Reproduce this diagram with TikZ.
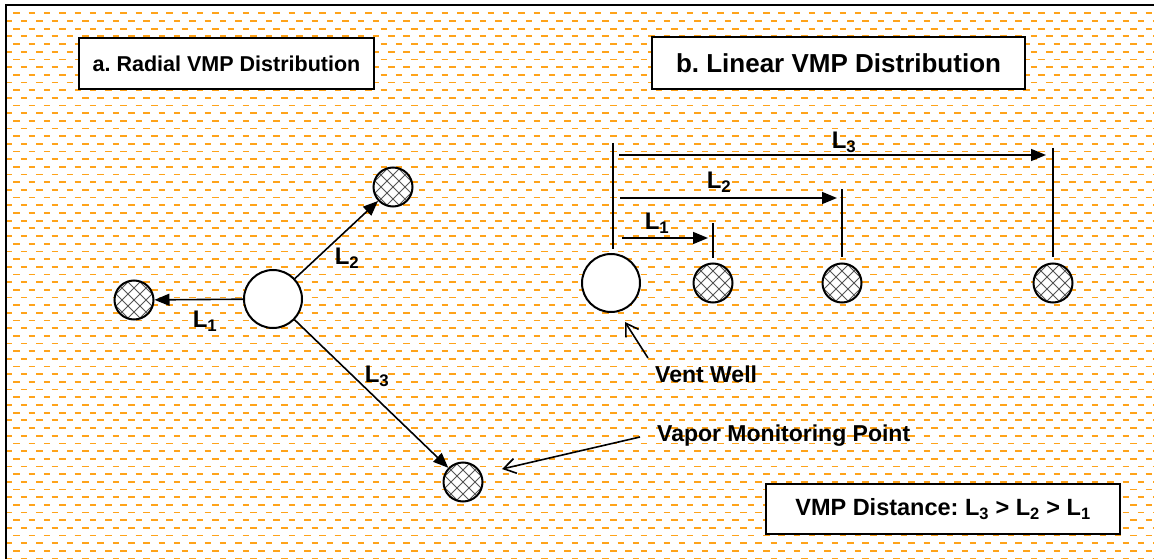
\documentclass[tikz,border=0pt]{standalone}
\usepackage{fontspec}
\setmainfont{Liberation Sans}
\usetikzlibrary{arrows.meta,calc}
\definecolor{bgorange}{RGB}{255,163,26}
\definecolor{hatchgray}{RGB}{85,85,85}
\newcommand{\Lsub}[1]{L\textsubscript{#1}}
\frenchspacing
\begin{document}
\begin{tikzpicture}[x=1pt,y=-1pt,
  bgline/.style={bgorange, line width=1.7pt, dash pattern=on 6.5pt off 8.8pt},
  frameline/.style={black, line width=2pt},
  titlebox/.style={draw, line width=2pt, fill=white, inner sep=0pt, anchor=north west},
  well/.style={circle, draw, line width=2pt, fill=white, minimum size=58pt, inner sep=0pt},
  hatchline/.style={hatchgray, line width=1pt},
  vmp/.style={circle, draw, line width=2pt, fill=white, minimum size=39pt, inner sep=0pt,
    path picture={
      \foreach \d in {-48,-36,...,48}{
        \draw[hatchline] ([xshift=\d pt]path picture bounding box.center) ++(-30,-30) -- ++(60,60);
        \draw[hatchline] ([xshift=\d pt]path picture bounding box.center) ++(-30,30) -- ++(60,-60);
      }}},
  conn/.style={black, line width=1.6pt},
  filledtip/.style={-{Triangle[length=15pt,width=12pt]}},
  opentip/.style={-{Straight Barb[length=12pt,width=15pt]}},
  lbl/.style={font=\fontsize{24}{27}\selectfont\bfseries, inner sep=0pt},
  callout/.style={font=\fontsize{23}{26}\selectfont\bfseries, inner sep=0pt, anchor=west}
]
\useasboundingbox (0,0) rectangle (1154,559);
\fill[white] (0,0) rectangle (1154,559);
% background pattern
\foreach \k in {0,...,71}{
  \pgfmathsetmacro{\yy}{13.3+7.68*\k}
  \pgfmathsetmacro{\ph}{mod(\k,2)==0 ? 8 : 0.35}
  \draw[bgline, dash phase=\ph pt] (6,\yy) -- (1154,\yy);
}
% frame (top and left edges)
\draw[frameline] (5.5,559) -- (5.5,5.5) -- (1154,5.5);

% title boxes
\node[titlebox, minimum width=295pt, minimum height=51pt,
      font=\fontsize{21.5}{24}\selectfont\bfseries] (ta) at (78,37) {a. Radial VMP Distribution};
\node[titlebox, minimum width=373pt, minimum height=52pt,
      font=\fontsize{26}{30}\selectfont\bfseries] (tb) at (651,36) {b. Linear VMP Distribution};
\node[titlebox, minimum width=354pt, minimum height=50pt,
      font=\fontsize{23.5}{28}\selectfont\bfseries] (td) at (765,483) {VMP Distance: \Lsub{3} > \Lsub{2} > \Lsub{1}};

% radial
\node[well] (wa) at (273,299) {};
\node[vmp] (a1) at (134,300) {};
\node[vmp] (a2) at (393,187) {};
\node[vmp] (a3) at (463,482) {};
\draw[conn, filledtip] (wa) -- (a1);
\draw[conn, filledtip] (wa) -- (a2);
\draw[conn, filledtip] (wa) -- (a3);
\node[lbl] (la1) at (205,321) {\Lsub{1}};
\node[lbl] (la2) at (347,258) {\Lsub{2}};
\node[lbl] (la3) at (377,376) {\Lsub{3}};

% linear
\node[well] (wb) at (611,283) {};
\node[vmp] (b1) at (713,283) {};
\node[vmp] (b2) at (842,283) {};
\node[vmp] (b3) at (1053,283) {};
\coordinate (w0t) at (613,143);
\coordinate (w0b) at (613,249);
\coordinate (v1t) at (713,223);
\coordinate (v1b) at (713,258);
\coordinate (v2t) at (842,189);
\coordinate (v2b) at (842,257);
\coordinate (v3t) at (1053,148);
\coordinate (v3b) at (1053,257);
\draw[conn] (w0t) -- (w0b);
\draw[conn] (v1t) -- (v1b);
\draw[conn] (v2t) -- (v2b);
\draw[conn] (v3t) -- (v3b);
\coordinate (d1s) at (622,238);
\coordinate (d1e) at (708,238);
\coordinate (d2s) at (620,198);
\coordinate (d2e) at (837,198);
\coordinate (d3s) at (619,155);
\coordinate (d3e) at (1046,155);
\draw[conn, filledtip] (d1s) -- (d1e);
\draw[conn, filledtip] (d2s) -- (d2e);
\draw[conn, filledtip] (d3s) -- (d3e);
\node[lbl] (lb1) at (657,223) {\Lsub{1}};
\node[lbl] (lb2) at (719,182) {\Lsub{2}};
\node[lbl] (lb3) at (844,142) {\Lsub{3}};

% callouts
\node[callout] (vw) at (655,374) {Vent Well};
\coordinate (vwtail) at (648,358);
\coordinate (vwtip) at (625,322);
\draw[conn, opentip] (vwtail) -- (vwtip);
\node[callout] (vp) at (657,436) {Vapor Monitoring Point};
\coordinate (vptail) at (640,437);
\coordinate (vptip) at (502,469);
\draw[conn, opentip] (vptail) -- (vptip);
\end{tikzpicture}
\end{document}
